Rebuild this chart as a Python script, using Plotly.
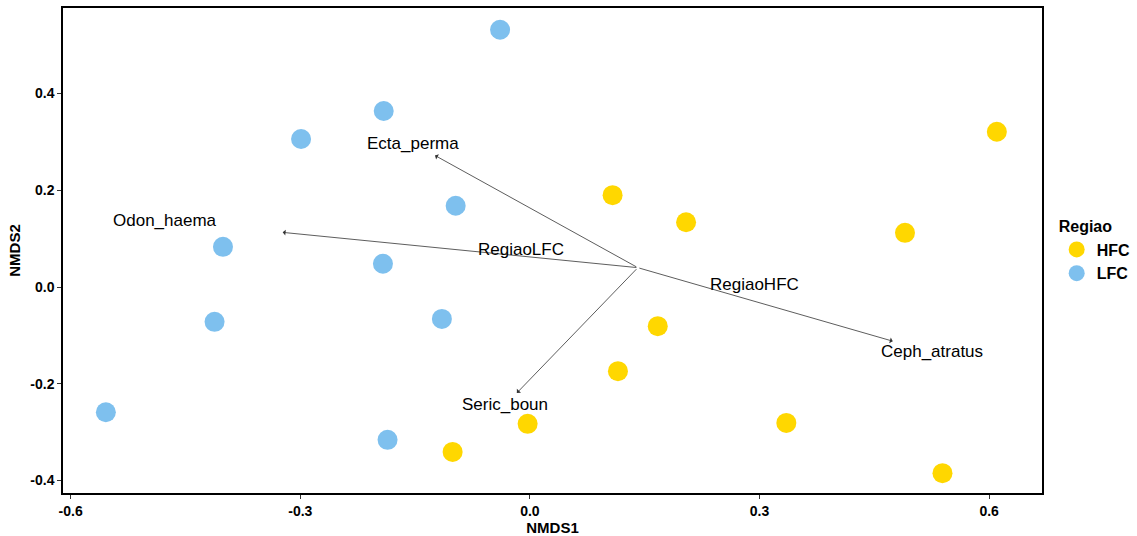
import plotly.graph_objects as go

# Site scores
lfc_x = [-0.039, -0.191, -0.299, -0.097, -0.401, -0.192, -0.412, -0.115, -0.554, -0.186]
lfc_y = [0.532, 0.364, 0.306, 0.168, 0.083, 0.048, -0.072, -0.066, -0.259, -0.316]
hfc_x = [0.610, 0.108, 0.204, 0.490, 0.167, 0.115, -0.003, 0.335, -0.101, 0.539]
hfc_y = [0.321, 0.190, 0.134, 0.112, -0.081, -0.174, -0.283, -0.281, -0.341, -0.385]

# Vector fit (arrows from origin)
origin = (0.141, 0.040)
species = ["Ecta_perma", "Odon_haema", "Ceph_atratus", "Seric_boun"]
arrow_x = [-0.124, -0.323, 0.474, -0.017]
arrow_y = [0.272, 0.113, -0.112, -0.219]
label_x = [-0.153, -0.477, 0.525, -0.032]
label_y = [0.296, 0.138, -0.134, -0.243]

# Factor centroids
factors = ["RegiaoLFC", "RegiaoHFC"]
factor_x = [-0.012, 0.293]
factor_y = [0.077, 0.006]

xticks = [-0.6, -0.3, 0.0, 0.3, 0.6]
xticktext = ["-0.6", "-0.3", "0.0", "0.3", "0.6"]
yticks = [-0.4, -0.2, 0.0, 0.2, 0.4]
yticktext = ["-0.4", "-0.2", "0.0", "0.2", "0.4"]

FONT = "Liberation Sans, Arial, sans-serif"

fig = go.Figure()
fig.add_trace(go.Scatter(x=hfc_x, y=hfc_y, mode="markers", name="<b>HFC</b>",
                         marker=dict(size=20, color="#FFD700", line=dict(width=0))))
fig.add_trace(go.Scatter(x=lfc_x, y=lfc_y, mode="markers", name="<b>LFC</b>",
                         marker=dict(size=20, color="#7EC0EE", line=dict(width=0))))

annotations = []
for ax_, ay_ in zip(arrow_x, arrow_y):
    annotations.append(dict(x=ax_, y=ay_, ax=origin[0], ay=origin[1],
                            xref="x", yref="y", axref="x", ayref="y",
                            showarrow=True, arrowhead=1, arrowsize=1.2,
                            arrowwidth=0.8, arrowcolor="#333333", text=""))
for name, lx, ly in zip(species, label_x, label_y):
    annotations.append(dict(x=lx, y=ly, xref="x", yref="y", text=name,
                            showarrow=False, font=dict(size=17, color="black", family=FONT)))
for name, fx, fy in zip(factors, factor_x, factor_y):
    annotations.append(dict(x=fx, y=fy, xref="x", yref="y", text=name,
                            showarrow=False, font=dict(size=17, color="black", family=FONT)))

fig.update_layout(
    width=1137, height=536,
    margin=dict(l=63, r=95, t=8, b=43, autoexpand=False),
    paper_bgcolor="white", plot_bgcolor="white",
    font=dict(family=FONT, color="black"),
    annotations=annotations,
    showlegend=True,
    legend=dict(title=dict(text="<b>Regiao</b>", font=dict(size=16, family=FONT)),
                font=dict(size=16, family=FONT, color="black"),
                bgcolor="rgba(0,0,0,0)",
                x=1.015, xanchor="left", y=0.58, yanchor="top",
                itemsizing="trace", tracegroupgap=0),
    xaxis=dict(range=[-0.610, 0.669], tickvals=xticks, ticktext=xticktext,
               showgrid=False, zeroline=False, showline=True, linecolor="black",
               linewidth=1.5, mirror=True, ticks="outside", ticklen=4,
               tickcolor="#333333", tickfont=dict(size=14, family=FONT, color="black", weight="bold"),
               title=dict(text="<b>NMDS1</b>", font=dict(size=15, family=FONT), standoff=3)),
    yaxis=dict(range=[-0.426, 0.577], tickvals=yticks, ticktext=yticktext,
               showgrid=False, zeroline=False, showline=True, linecolor="black",
               linewidth=1.5, mirror=True, ticks="outside", ticklen=4,
               tickcolor="#333333", tickfont=dict(size=14, family=FONT, color="black", weight="bold"),
               title=dict(text="<b>NMDS2</b>", font=dict(size=15, family=FONT), standoff=6)),
)

fig.write_html("out.html")
